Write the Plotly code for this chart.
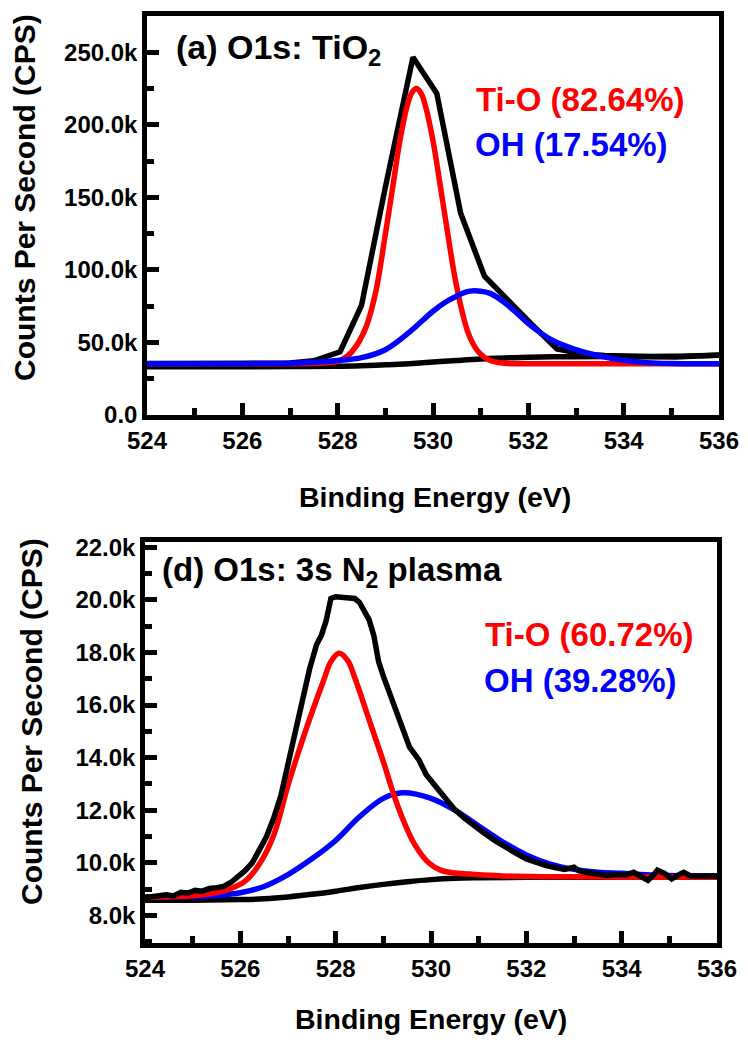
import numpy as np
import plotly.graph_objects as go

W, H = 748, 1040

# ---------------- (a) O1s: TiO2 (values in kCPS) ----------------
a_raw_x = [524.0, 524.5, 525.0, 525.5, 526.0, 526.5, 527.0, 527.5, 528.05, 528.5,
           529.0, 529.58, 530.08, 530.58, 531.08, 531.6, 532.1, 532.6, 533.1, 533.6,
           534.1, 534.6, 535.1, 535.6, 536.0]
a_raw_y = [35.5, 35.4, 35.5, 35.4, 35.5, 35.6, 35.9, 37.4, 43.6, 75.5,
           157.0, 246.6, 221.6, 139.0, 95.6, 78.0, 61.6, 45.6, 42.3, 41.0,
           40.3, 40.1, 40.0, 40.3, 41.3]

a_bg_x = [524.0, 525.0, 526.0, 527.0, 528.0, 528.5, 529.0, 529.5, 530.0, 530.5,
          531.0, 531.5, 532.0, 532.5, 533.0, 534.0, 535.0, 536.0]
a_bg_y = [33.3, 33.3, 33.3, 33.4, 33.6, 34.0, 34.6, 35.4, 36.5, 37.6,
          38.6, 39.3, 39.8, 40.1, 40.2, 40.3, 40.5, 41.2]

a_tio_x = [524.0, 525.0, 526.0, 527.0, 527.5, 527.8, 528.0, 528.2, 528.4, 528.6,
           528.8, 529.0, 529.15, 529.3, 529.45, 529.55, 529.65, 529.75, 529.85, 530.0,
           530.15, 530.3, 530.45, 530.6, 530.75, 530.95, 531.2, 531.5, 532.0, 533.0,
           534.0, 535.0, 536.0]
a_tio_y = [35.4, 35.4, 35.4, 35.4, 35.5, 36.0, 37.0, 40.5, 48.0, 61.0,
           85.0, 124.5, 156.0, 188.0, 212.0, 221.8, 225.0, 221.8, 212.0, 189.0,
           158.5, 127.0, 96.5, 72.8, 55.5, 43.6, 37.5, 35.7, 35.4, 35.4,
           35.4, 35.4, 35.4]

a_oh_x = [524.0, 525.0, 526.0, 526.5, 527.0, 527.5, 528.0, 528.5, 529.0, 529.5,
          530.0, 530.25, 530.5, 530.7, 530.86, 531.0, 531.2, 531.5, 531.75, 532.0,
          532.5, 533.0, 533.5, 534.0, 534.5, 535.0, 535.5, 536.0]
a_oh_y = [35.4, 35.4, 35.4, 35.5, 35.7, 36.3, 37.5, 39.5, 45.0, 57.0,
          71.5, 77.5, 82.0, 84.8, 85.6, 85.3, 83.8, 77.5, 70.5, 63.0,
          51.5, 45.0, 40.6, 37.7, 36.1, 35.5, 35.4, 35.4]

# ---------------- (d) O1s: 3s N2 plasma (values in kCPS) ----------------
d_raw_x = [524.0, 524.15, 524.3, 524.45, 524.6, 524.75, 524.9, 525.05, 525.2, 525.35,
           525.5, 525.65, 525.8, 525.95, 526.1, 526.25, 526.4, 526.55, 526.7, 526.85,
           527.0, 527.15, 527.3, 527.45, 527.6, 527.7, 527.8, 527.9, 528.0, 528.1,
           528.2, 528.3, 528.4, 528.5, 528.6, 528.7, 528.8, 528.9, 529.0, 529.1,
           529.2, 529.3, 529.4, 529.55, 529.75, 529.9, 530.1, 530.3, 530.5, 530.7,
           530.9, 531.1, 531.35, 531.55, 531.75, 532.0, 532.2, 532.4, 532.6, 532.8,
           533.0, 533.1, 533.3, 533.5, 533.7, 533.9, 534.1, 534.25, 534.4, 534.55,
           534.65, 534.75, 534.9, 535.05, 535.2, 535.3, 535.45, 535.6, 535.75, 535.9,
           536.0]
d_raw_y = [8.68, 8.72, 8.76, 8.78, 8.74, 8.88, 8.85, 8.95, 8.92, 9.02,
           9.05, 9.10, 9.25, 9.45, 9.70, 10.00, 10.50, 11.00, 11.70, 12.55,
           13.75, 14.95, 16.05, 17.35, 18.30, 18.65, 19.20, 20.05, 20.12, 20.10,
           20.12, 20.10, 20.05, 19.90, 19.60, 19.25, 18.65, 17.65, 17.10, 16.60,
           16.00, 15.50, 15.03, 14.40, 13.90, 13.35, 12.90, 12.45, 12.02, 11.70,
           11.40, 11.15, 10.83, 10.60, 10.40, 10.15, 10.02, 9.90, 9.82, 9.75,
           9.83, 9.70, 9.62, 9.58, 9.52, 9.55, 9.55, 9.64, 9.50, 9.33,
           9.50, 9.72, 9.60, 9.39, 9.55, 9.64, 9.50, 9.50, 9.52, 9.50,
           9.50]

d_bg_x = [524.0, 525.0, 526.0, 526.5, 527.0, 527.5, 528.0, 528.5, 529.0, 529.5,
          530.0, 530.5, 531.0, 532.0, 533.0, 534.0, 535.0, 536.0]
d_bg_y = [8.58, 8.58, 8.60, 8.63, 8.70, 8.80, 8.92, 9.06, 9.18, 9.28,
          9.36, 9.41, 9.43, 9.45, 9.45, 9.46, 9.46, 9.46]

d_tio_x = [524.0, 524.5, 525.0, 525.5, 525.8, 526.1, 526.4, 526.7, 527.0, 527.2,
           527.45, 527.75, 527.9, 528.07, 528.25, 528.4, 528.7, 529.0, 529.2, 529.4,
           529.65, 529.95, 530.2, 530.45, 530.8, 531.5, 532.5, 534.0, 536.0]
d_tio_y = [8.70, 8.71, 8.75, 8.87, 9.02, 9.30, 9.95, 11.05, 12.95, 14.10,
           15.45, 16.95, 17.65, 17.97, 17.70, 17.05, 15.45, 13.85, 12.70, 11.70,
           10.72, 10.00, 9.72, 9.62, 9.57, 9.50, 9.47, 9.46, 9.46]

d_oh_x = [524.0, 524.5, 525.0, 525.5, 526.0, 526.5, 527.0, 527.5, 528.0, 528.5,
          529.0, 529.4, 530.0, 530.5, 531.0, 531.5, 532.0, 532.5, 533.0, 533.5,
          534.0, 534.5, 535.0, 536.0]
d_oh_y = [8.70, 8.70, 8.72, 8.76, 8.86, 9.10, 9.55, 10.15, 10.85, 11.75,
          12.45, 12.66, 12.45, 12.00, 11.40, 10.80, 10.30, 9.95, 9.75, 9.64,
          9.60, 9.55, 9.52, 9.50]

# ---------------- axis ticks ----------------
x_ticks = [524, 526, 528, 530, 532, 534, 536]
a_yticks = [0, 50000, 100000, 150000, 200000, 250000]
a_ylabels = ["0.0", "50.0k", "100.0k", "150.0k", "200.0k", "250.0k"]
d_yticks = [8000, 10000, 12000, 14000, 16000, 18000, 20000, 22000]
d_ylabels = ["8.0k", "10.0k", "12.0k", "14.0k", "16.0k", "18.0k", "20.0k", "22.0k"]

K = 1000.0
FONT = "Liberation Sans"
LW = 5.5

fig = go.Figure()


def add_line(x, y, color, xa, ya, shape="spline"):
    fig.add_trace(go.Scatter(
        x=x, y=np.asarray(y) * K, mode="lines", xaxis=xa, yaxis=ya,
        line=dict(color=color, width=LW, shape=shape, smoothing=1.0),
        showlegend=False, hoverinfo="skip"))


# panel (a): measured envelope, Shirley background, components
add_line(a_raw_x, a_raw_y, "black", "x", "y", shape="linear")
add_line(a_bg_x, a_bg_y, "black", "x", "y")
add_line(a_tio_x, a_tio_y, "#ff0000", "x", "y")
add_line(a_oh_x, a_oh_y, "#0000ff", "x", "y")

# panel (d)
add_line(d_bg_x, d_bg_y, "black", "x2", "y2")
add_line(d_oh_x, d_oh_y, "#0000ff", "x2", "y2")
add_line(d_tio_x, d_tio_y, "#ff0000", "x2", "y2")
add_line(d_raw_x, d_raw_y, "black", "x2", "y2", shape="linear")

tickfont = dict(family=FONT, size=24, color="black", weight="bold")


def axis_common():
    return dict(showline=True, linewidth=4.5, linecolor="black", mirror=True,
                ticks="inside", ticklen=12, tickwidth=4.5, tickcolor="black",
                showgrid=False, zeroline=False, tickfont=tickfont,
                automargin=False, tickmode="linear", layer="above traces")


def px_x(p):
    return p / W


def px_y(p):
    return 1 - p / H


def x_axis(domain, anchor):
    ax = axis_common()
    step = x_ticks[1] - x_ticks[0]
    ax.update(range=[x_ticks[0], x_ticks[-1]], tick0=x_ticks[0], dtick=step,
              domain=domain, anchor=anchor,
              minor=dict(ticks="inside", ticklen=7, tickwidth=4.5,
                         tickcolor="black", tick0=x_ticks[0], dtick=step / 2))
    return ax


def y_axis(rng, vals, labels, domain, anchor):
    ax = axis_common()
    step = vals[1] - vals[0]
    ax.update(range=rng, tick0=vals[0], dtick=step, tickformat=".0f",
              labelalias={f"{v:.0f}": lab for v, lab in zip(vals, labels)},
              domain=domain, anchor=anchor,
              minor=dict(ticks="inside", ticklen=7, tickwidth=4.5,
                         tickcolor="black", tick0=vals[0], dtick=step / 2))
    return ax


xa = x_axis([px_x(147), px_x(719)], "y")
ya = y_axis([0, 275000], a_yticks, a_ylabels, [px_y(415), px_y(16)], "x")
xa2 = x_axis([px_x(145), px_x(717)], "y2")
ya2 = y_axis([6950, 22200], d_yticks, d_ylabels, [px_y(943), px_y(542)], "x2")


def note(text, x, y, color="black", size=33, angle=0):
    return dict(text=text, x=px_x(x), y=px_y(y), xref="paper", yref="paper",
                xanchor="center", yanchor="middle", showarrow=False, textangle=angle,
                font=dict(family=FONT, size=size, color=color, weight="bold"))


annotations = [
    note("(a) O1s: TiO<sub>2</sub>", 278, 49, size=34),
    note("Ti-O (82.64%)", 580, 100, color="#ff0000"),
    note("OH (17.54%)", 571, 145, color="#0000ff"),
    note("(d) O1s: 3s N<sub>2</sub> plasma", 332, 572),
    note("Ti-O (60.72%)", 589, 634, color="#ff0000"),
    note("OH (39.28%)", 580, 680, color="#0000ff"),
    note("Binding Energy (eV)", 435, 497, size=28.5),
    note("Binding Energy (eV)", 431, 1019, size=28.5),
    note("Counts Per Second (CPS)", 24, 198, size=30, angle=-90),
    note("Counts Per Second (CPS)", 31, 722, size=30, angle=-90),
]

fig.update_layout(
    template="none",
    width=W, height=H, margin=dict(l=0, r=0, t=0, b=0, pad=0),
    paper_bgcolor="white", plot_bgcolor="white",
    xaxis=xa, yaxis=ya, xaxis2=xa2, yaxis2=ya2,
    annotations=annotations, showlegend=False,
    font=dict(family=FONT, color="black"),
)

fig.write_html("out.html")
